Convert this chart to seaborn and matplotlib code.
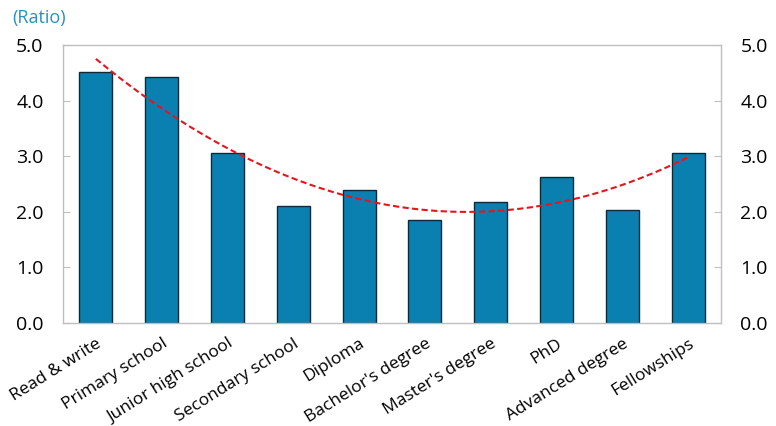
import numpy as np
import pandas as pd
import matplotlib
matplotlib.use("Agg")
import matplotlib.pyplot as plt
import seaborn as sns

categories = ["Read & write", "Primary school", "Junior high school", "Secondary school",
              "Diploma", "Bachelor's degree", "Master's degree", "PhD",
              "Advanced degree", "Fellowships"]
ratios = [4.52, 4.43, 3.06, 2.10, 2.40, 1.85, 2.17, 2.63, 2.03, 3.06]
yticks = [0.0, 1.0, 2.0, 3.0, 4.0, 5.0]

sns.set_style("white")
plt.rcParams['font.family'] = ['Open Sans', 'DejaVu Sans']

df = pd.DataFrame({"cat": categories, "ratio": ratios})

fig = plt.figure(figsize=(7.76, 4.26), dpi=100)
ax = fig.add_axes([63/776, 1-323/426, (721-63)/776, (323-45)/426])

sns.barplot(data=df, x="cat", y="ratio", color="#0A80B0", width=0.5,
            edgecolor="#0B2A3A", linewidth=1.0, saturation=1, ax=ax)

# polynomial (order 2) trend line
xi = np.arange(len(ratios))
coef = np.polyfit(xi, ratios, 2)
xs = np.linspace(0, len(ratios) - 1, 200)
ax.plot(xs, np.polyval(coef, xs), color="#E8141B", linestyle=(0, (3, 1.6)), linewidth=1.5)

ax.set_xlim(-0.5, len(categories) - 0.5)
ax.set_ylim(0, 5)
ax.set_yticks(yticks)
ax.set_yticklabels([f"{v:.1f}" for v in yticks])
ax.set_xlabel("")
ax.set_ylabel("")

for s in ax.spines.values():
    s.set_color("#BFBFBF")
    s.set_linewidth(1.0)

ax.tick_params(axis="y", which="both", direction="in", length=5, color="#BFBFBF",
               labelcolor="#000000",
               labelsize=14, left=True, right=True, labelleft=True, labelright=True, pad=14)
ax.set_xticks(xi)
ax.set_xticklabels(categories, rotation=32, ha="right", rotation_mode="anchor", fontsize=12.5,
                   color="#000000")
ax.tick_params(axis="x", which="major", length=0, pad=9)
ax.set_xticks(np.arange(0.5, len(categories) - 1, 1), minor=True)
ax.tick_params(axis="x", which="minor", direction="in", length=5, color="#BFBFBF")

fig.text(12/776, 1-18/426, "(Ratio)", color="#2A8FC4", fontsize=13, va="center")

fig.savefig("out.png", dpi=100)
